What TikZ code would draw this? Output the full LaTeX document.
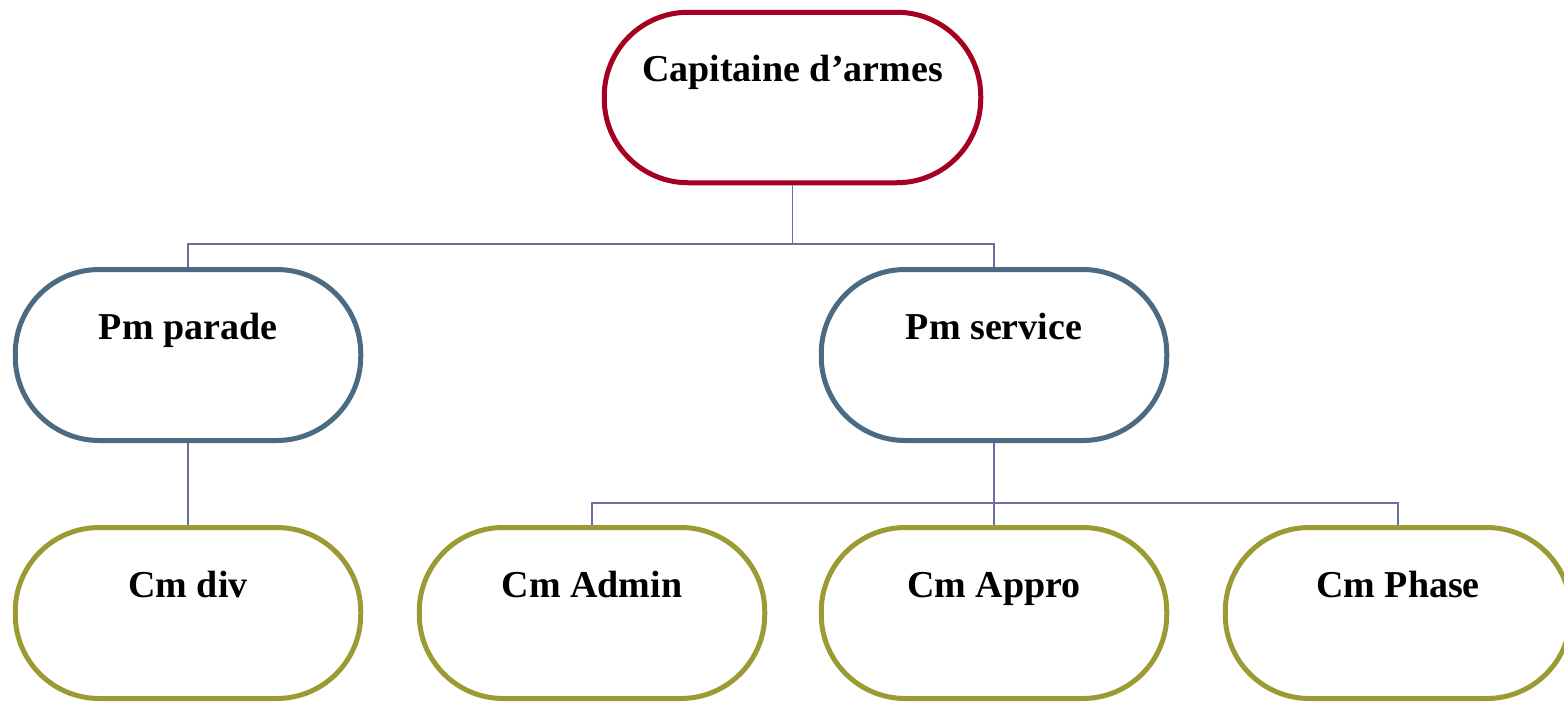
\documentclass[tikz,border=0pt]{standalone}
\usepackage{fontspec}
\setmainfont{Liberation Serif}
\usepackage{tikz}

\definecolor{chefred}{HTML}{A50021}
\definecolor{pmblue}{HTML}{4A6B82}
\definecolor{cmolive}{HTML}{9C9B33}
\definecolor{linkviolet}{HTML}{6C6CA5}

\begin{document}
\begin{tikzpicture}[x=0.5pt,y=-0.5pt,
	box/.style={line width=2.5pt,fill=white,text=black,rounded corners=42pt,
		minimum width=172.75pt,minimum height=85.5pt,
		text height=13pt,text depth=29pt,
		font=\fontsize{19}{22}\selectfont\bfseries},
	chefbox/.style={box,draw=chefred,minimum width=188.25pt,minimum height=85.25pt},
	pmbox/.style={box,draw=pmblue},
	cmbox/.style={box,draw=cmolive},
	link/.style={linkviolet,line width=0.9pt}]
\useasboundingbox (0,0) rectangle (1564,702);

% chef
\node[chefbox] (capitaine) at (792.5,97.5) {Capitaine d'armes};

% premiers maitres
\node[pmbox] (pmparade) at (188,355) {Pm parade};
\node[pmbox] (pmservice) at (994,355) {Pm service};

% chefs de magasin
\node[cmbox] (cmdiv) at (188,613) {Cm div};
\node[cmbox] (cmadmin) at (592,613) {Cm Admin};
\node[cmbox] (cmappro) at (994,613) {Cm Appro};
\node[cmbox] (cmphase) at (1398,613) {Cm Phase};

% liaisons
\draw[link] (capitaine.south) -- ++(0,59) -| (pmparade.north);
\draw[link] (capitaine.south) -- ++(0,59) -| (pmservice.north);
\draw[link] (pmparade.south) -- (cmdiv.north);
\draw[link] (pmservice.south) -- ++(0,60) -| (cmadmin.north);
\draw[link] (pmservice.south) -- (cmappro.north);
\draw[link] (pmservice.south) -- ++(0,60) -| (cmphase.north);
\end{tikzpicture}
\end{document}
